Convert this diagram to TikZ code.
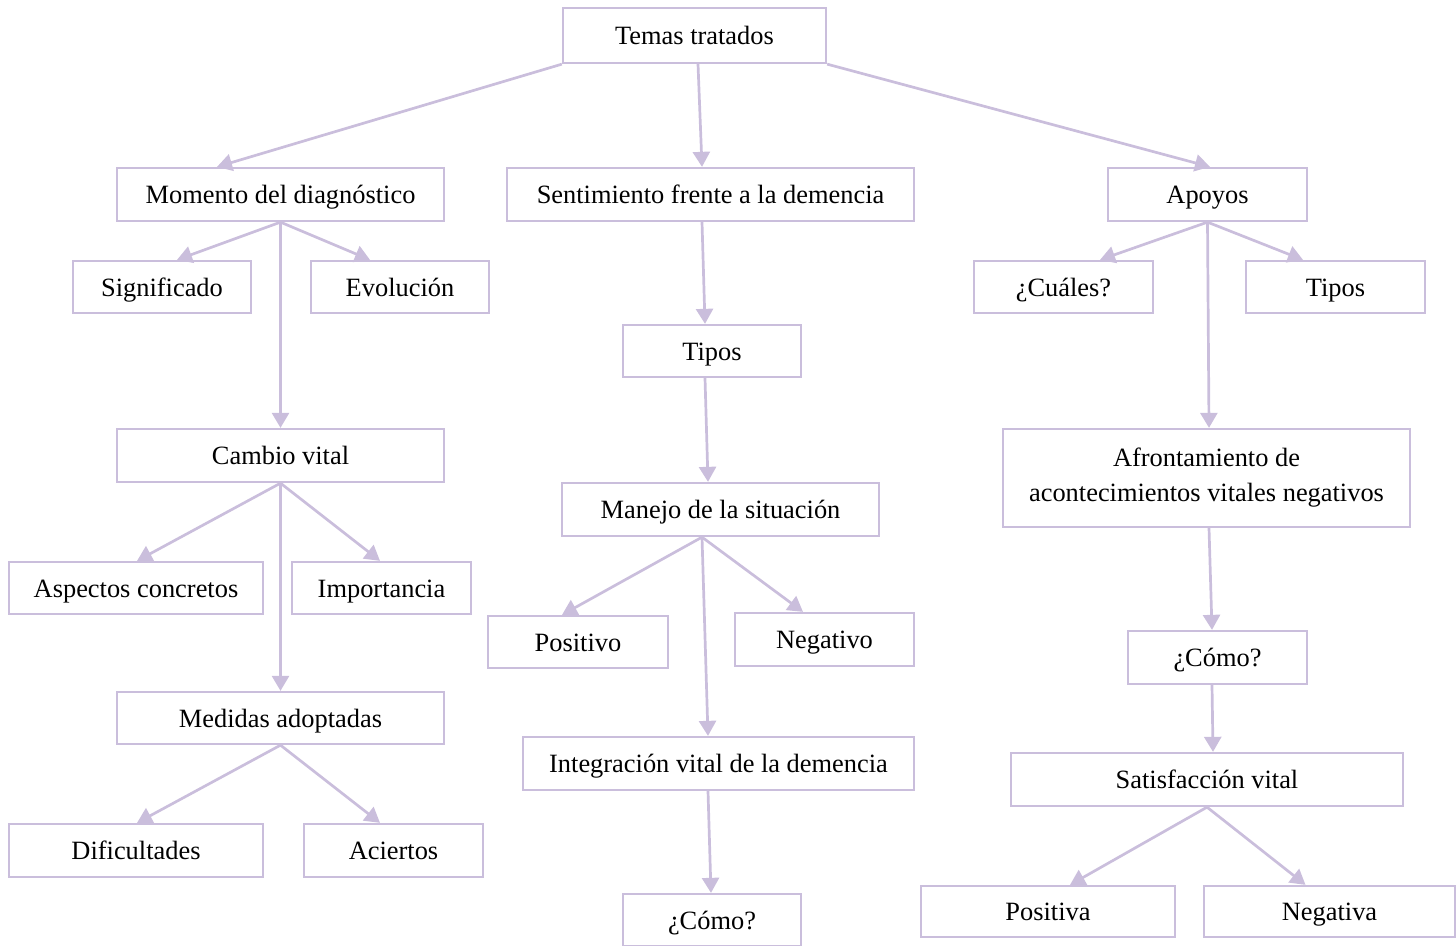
\documentclass[tikz,border=0pt]{standalone}
\usepackage{fontspec}
\setmainfont{Liberation Serif}
\usetikzlibrary{arrows.meta}
\definecolor{lav}{RGB}{202,190,220}
\begin{document}
\begin{tikzpicture}[x=1bp,y=-1bp,
  frame/.style={draw=lav, line width=2.3bp, fill=white, inner sep=0pt,
    font=\fontsize{26.4bp}{35bp}\selectfont, align=center},
  box/.style={frame, text height=18bp, text depth=0bp},
  link/.style={draw=lav, line width=2.7bp, -{Triangle[width=17bp,length=15bp]}}]
\useasboundingbox (0,0) rectangle (1456,945);
\clip (0,0) rectangle (1456,945);

% top level
\node[box, minimum width=263bp, minimum height=55bp] (temas) at (694.5,35.5) {Temas tratados};

% second level
\node[box, minimum width=327bp, minimum height=53bp] (momento) at (280.5,194.5) {Momento del diagnóstico};
\node[box, minimum width=407bp, minimum height=53bp] (sentim) at (710.5,194.5) {Sentimiento frente a la demencia};
\node[box, minimum width=199bp, minimum height=53bp] (apoyos) at (1207.5,194.5) {Apoyos};

% left branch
\node[box, minimum width=178bp, minimum height=52bp] (signif) at (162,287) {Significado};
\node[box, minimum width=178bp, minimum height=52bp] (evol) at (400,287) {Evolución};
\node[box, minimum width=327bp, minimum height=53bp] (cambio) at (280.5,455.5) {Cambio vital};
\node[box, minimum width=254bp, minimum height=52bp] (aspectos) at (136,588) {Aspectos concretos};
\node[box, minimum width=179bp, minimum height=52bp] (import) at (381.5,588) {Importancia};
\node[box, minimum width=327bp, minimum height=52bp] (medidas) at (280.5,718) {Medidas adoptadas};
\node[box, minimum width=254bp, minimum height=53bp] (dific) at (136,850.5) {Dificultades};
\node[box, minimum width=179bp, minimum height=53bp] (aciertos) at (393.5,850.5) {Aciertos};

% middle branch
\node[box, minimum width=178bp, minimum height=52bp] (tiposM) at (712,351) {Tipos};
\node[box, minimum width=317bp, minimum height=53bp] (manejo) at (720.5,509.5) {Manejo de la situación};
\node[box, minimum width=180bp, minimum height=52bp] (positivo) at (578,642) {Positivo};
\node[box, minimum width=179bp, minimum height=53bp] (negativo) at (824.5,639.5) {Negativo};
\node[box, minimum width=391bp, minimum height=53bp] (integr) at (718.5,763.5) {Integración vital de la demencia};
\node[box, minimum width=178bp, minimum height=52bp] (comoM) at (712,920) {¿Cómo?};

% right branch
\node[box, minimum width=179bp, minimum height=52bp] (cuales) at (1063.5,287) {¿Cuáles?};
\node[box, minimum width=179bp, minimum height=52bp] (tiposR) at (1335.5,287) {Tipos};
\node[frame, minimum width=407bp, minimum height=98bp] (afront) at (1206.5,478)
  {Afrontamiento de\\acontecimientos vitales negativos};
\node[box, minimum width=179bp, minimum height=53bp] (comoR) at (1217.5,657.5) {¿Cómo?};
\node[box, minimum width=392bp, minimum height=53bp] (satisf) at (1207,779.5) {Satisfacción vital};
\node[box, minimum width=254bp, minimum height=51bp] (positiva) at (1048,911.5) {Positiva};
\node[box, minimum width=251bp, minimum height=51bp] (negativa) at (1329.5,911.5) {Negativa};

% connectors from the root
\draw[link] (temas.south west) -- ([xshift=-63.5bp]momento.north);
\draw[link] ([xshift=3.5bp]temas.south) -- ([xshift=-8.5bp]sentim.north);
\draw[link] (temas.south east) -- ([xshift=2.5bp]apoyos.north);

% left branch connectors
\draw[link] (momento.south) -- ([xshift=15bp]signif.north);
\draw[link] (momento.south) -- ([xshift=-30bp]evol.north);
\draw[link] (momento.south) -- (cambio.north);
\draw[link] (cambio.south) -- ([xshift=1bp]aspectos.north);
\draw[link] (cambio.south) -- ([xshift=-1.5bp]import.north);
\draw[link] (cambio.south) -- (medidas.north);
\draw[link] (medidas.south) -- ([xshift=1bp]dific.north);
\draw[link] (medidas.south) -- ([xshift=-13.5bp]aciertos.north);

% middle branch connectors
\draw[link] ([xshift=-8.5bp]sentim.south) -- ([xshift=-7bp]tiposM.north);
\draw[link] ([xshift=-7bp]tiposM.south) -- ([xshift=-12.5bp]manejo.north);
\draw[link] ([xshift=-18.5bp]manejo.south) -- ([xshift=-16bp]positivo.north);
\draw[link] ([xshift=-18.5bp]manejo.south) -- ([xshift=-21.5bp]negativo.north);
\draw[link] ([xshift=-18.5bp]manejo.south) -- ([xshift=-10.5bp]integr.north);
\draw[link] ([xshift=-10.5bp]integr.south) -- ([xshift=-1bp]comoM.north);

% right branch connectors
\draw[link] (apoyos.south) -- ([xshift=36.5bp]cuales.north);
\draw[link] (apoyos.south) -- ([xshift=-32.5bp]tiposR.north);
\draw[link] (apoyos.south) -- ([xshift=2.5bp]afront.north);
\draw[link] ([xshift=2.5bp]afront.south) -- ([xshift=-5.5bp]comoR.north);
\draw[link] ([xshift=-5.5bp]comoR.south) -- ([xshift=6bp]satisf.north);
\draw[link] (satisf.south) -- ([xshift=22bp]positiva.north);
\draw[link] (satisf.south) -- ([xshift=-24bp]negativa.north);
\end{tikzpicture}
\end{document}
